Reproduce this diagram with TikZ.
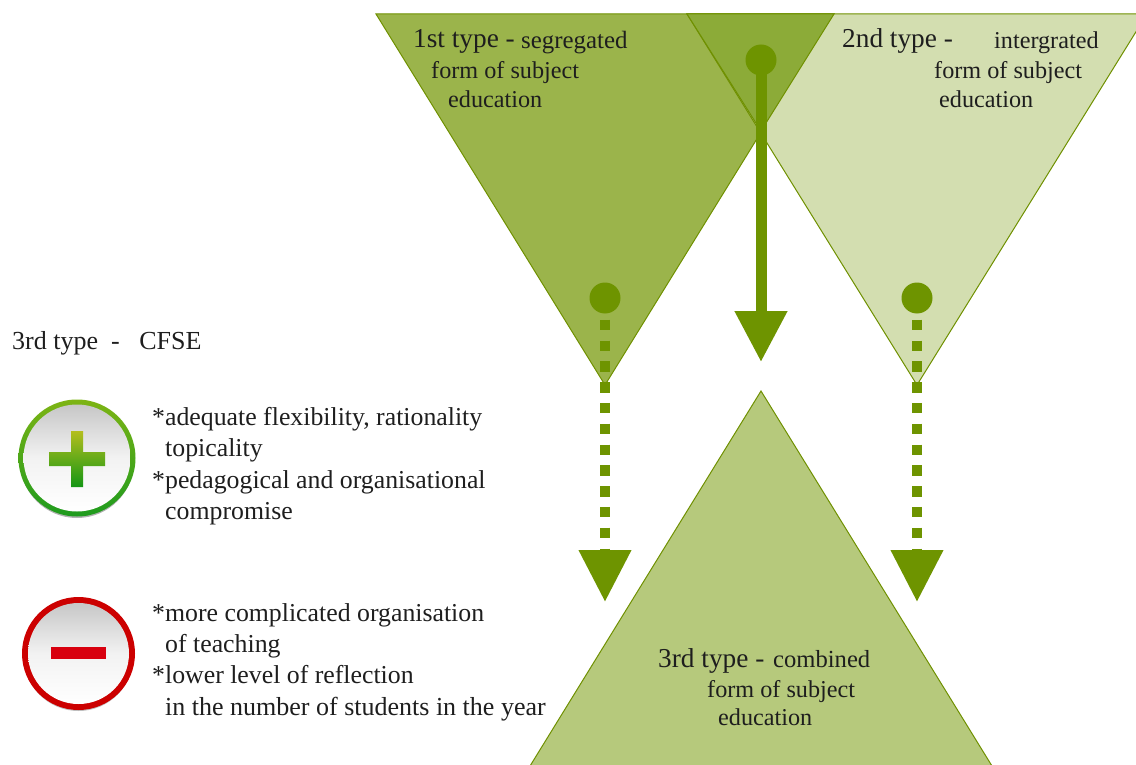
\documentclass[tikz,border=0pt]{standalone}
\usepackage{fontspec}
\setmainfont{Liberation Serif}
\usetikzlibrary{arrows.meta}
\definecolor{tone}{HTML}{9BB44B}
\definecolor{ttwo}{HTML}{D3DEB0}
\definecolor{tthree}{HTML}{B6C97C}
\definecolor{tover}{HTML}{8CAB38}
\definecolor{edgeg}{HTML}{6F9000}
\definecolor{arrowg}{HTML}{6E9400}
\definecolor{inkc}{HTML}{1E1E1E}
\definecolor{plustop}{HTML}{B4BE1E}
\definecolor{plusbot}{HTML}{149614}
\definecolor{ringtop}{HTML}{7DB414}
\definecolor{ringbot}{HTML}{1E9B1E}
\definecolor{minusred}{HTML}{D8000F}
\tikzset{
  tri/.style={draw=edgeg,line width=1pt,line join=miter},
  big/.style={font=\fontsize{27.3}{27}\selectfont,text=inkc,inner sep=0pt,anchor=base west},
  lab/.style={font=\fontsize{24.2}{24}\selectfont,text=inkc,inner sep=0pt,anchor=base west},
  txt/.style={font=\fontsize{25.8}{26}\selectfont,text=inkc,inner sep=0pt,anchor=base west},
  dot/.style={circle,fill=arrowg,minimum size=31pt,inner sep=0pt},
  solidarrow/.style={draw=arrowg,line width=11pt,-{Triangle[width=50pt,length=51pt]}},
  dotarrow/.style={draw=arrowg,line width=10.5pt,dash pattern=on 10.4pt off 10.4pt,shorten <=6pt,-{Triangle[width=50pt,length=52pt]}},
  dish/.style={circle,inner sep=0pt,top color=black!22,bottom color=white,middle color=black!5},
}
\begin{document}
\begin{tikzpicture}[x=1pt,y=-1pt]
\useasboundingbox (0,0) rectangle (1136,765);
\clip (0,0) rectangle (1136,765);
% triangles
\draw[tri,fill=tone] (376,14) -- (834,14) -- (605,385) -- cycle;
\draw[tri,fill=ttwo] (687,14) -- (1147,14) -- (917,385) -- cycle;
\draw[tri,fill=tover] (687,14) -- (834,14) -- (761,131) -- cycle;
\draw[tri,fill=tthree] (761,391) -- (1000,779) -- (522,779) -- cycle;
% circles and targets
\node[dot] (d1) at (605,298) {};
\node[dot] (d2) at (917,298) {};
\node[dot] (d0) at (761,60) {};
\coordinate (e1) at (605,602);
\coordinate (e2) at (917,602);
\coordinate (e0) at (761,362);
\draw[solidarrow] (d0.center) -- (e0);
\draw[dotarrow] (d1.south) -- (e1);
\draw[dotarrow] (d2.south) -- (e2);
% triangle texts
\node[big] (a1) at (413,48) {1st type -};
\node[lab,font=\fontsize{24.9}{25}\selectfont] (a1b) at (521,49) {segregated};
\node[lab] (a2) at (431,79) {form of subject};
\node[lab] (a3) at (448,108) {education};
\node[big] (b1) at (842,48) {2nd type -};
\node[lab,font=\fontsize{24.2}{25}\selectfont] (b1b) at (994,49) {intergrated};
\node[lab] (b2) at (934,79) {form of subject};
\node[lab] (b3) at (939,108) {education};
\node[big] (c1) at (658,667) {3rd type -};
\node[lab,font=\fontsize{24.6}{25}\selectfont] (c1b) at (773,667) {combined};
\node[lab] (c2) at (707,697) {form of subject};
\node[lab] (c3) at (718,725) {education};
% left column
\node[lab,font=\fontsize{26}{26}\selectfont] (h) at (12,349) {3rd type\ \ -\ \ \ CFSE};
\node[txt] (p1) at (152,425) {*adequate flexibility, rationality};
\node[txt] (p2) at (165,456) {topicality};
\node[txt] (p3) at (152,488) {*pedagogical and organisational};
\node[txt] (p4) at (165,519) {compromise};
\node[txt] (m1) at (152,621) {*more complicated organisation};
\node[txt] (m2) at (165,652) {of teaching};
\node[txt] (m3) at (152,683) {*lower level of reflection};
\node[txt,font=\fontsize{26}{26}\selectfont] (m4) at (165,715) {in the number of students in the year};
% plus icon
\fill[black!30] (77,461) circle (57pt);
\node[circle,minimum size=117pt,inner sep=0pt,top color=ringtop,bottom color=ringbot] (pr) at (77,458) {};
\node[dish,minimum size=107pt] (pd) at (pr) {};
\shade[top color=plustop,bottom color=plusbot] (71,431) rectangle (83,452) -- (105,452) -- (105,466) -- (83,466) -- (83,487) -- (71,487) -- (71,466) -- (49,466) -- (49,452) -- (71,452) -- cycle;
% minus icon
\fill[black!25] (78.5,656) circle (55pt);
\node[circle,minimum size=113pt,inner sep=0pt,fill=red!80!black] (mr) at (78.5,653.5) {};
\node[dish,minimum size=101pt] (md) at (mr) {};
\fill[minusred] (51,647) rectangle (106,659);
\end{tikzpicture}
\end{document}
